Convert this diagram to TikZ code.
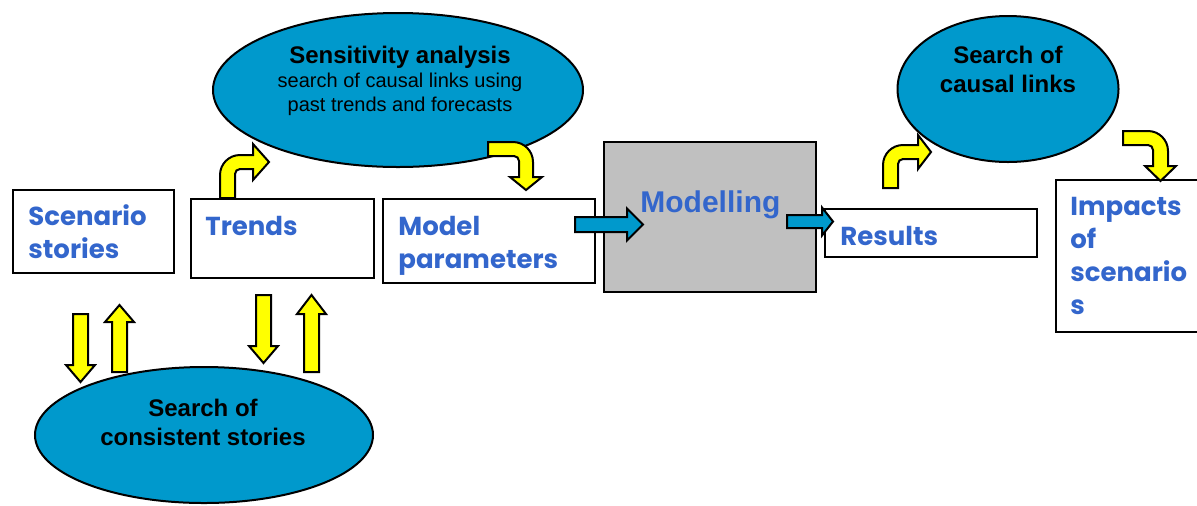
\documentclass[tikz,border=0pt]{standalone}
\usepackage{fontspec}
\setmainfont{Liberation Sans}
\newfontfamily\gothic{Poppins}
\usetikzlibrary{shapes.geometric}
\definecolor{ovalblue}{HTML}{0099CC}
\definecolor{textblue}{HTML}{3366CC}
\definecolor{modelgray}{HTML}{C0C0C0}
\definecolor{arrowyellow}{HTML}{FFFF00}

% straight block arrow: style, start, angle, length, half shaft, half head, head length
\newcommand{\blockarrow}[7]{%
  \draw[#1,shift={#2},rotate=#3] (0,-#5) -- ({#4-#7},-#5) -- ({#4-#7},-#6) -- (#4,0)
    -- ({#4-#7},#6) -- ({#4-#7},#5) -- (0,#5) -- cycle;}

\begin{document}
\begin{tikzpicture}[x=0.5pt,y=-0.5pt,
    box/.style={draw,line width=1pt,rectangle,inner sep=0pt},
    oval/.style={draw,line width=1pt,ellipse,fill=ovalblue,inner sep=0pt},
    boxtext/.style={text=textblue,font=\gothic\bfseries\fontsize{13}{16.5}\selectfont,align=left,anchor=base west,inner sep=0pt},
    ovaltext/.style={font=\bfseries\fontsize{12}{14.5}\selectfont,align=center,anchor=base,inner sep=0pt},
    yarrow/.style={draw,line width=1pt,fill=arrowyellow,line join=miter},
    barrow/.style={draw,line width=1pt,fill=ovalblue,line join=miter}]
    \useasboundingbox (0,0) rectangle (1197,505);

    % ovals
    \node[oval,minimum width=185pt,minimum height=77pt] (sens) at (398,90) {};
    \node[oval,minimum width=110.5pt,minimum height=73pt] (causal) at (1008,89) {};
    \node[oval,minimum width=169pt,minimum height=68pt] (consist) at (204,435) {};

    % (base anchor sits on the last line)
    \node[ovaltext] (senstitle) at (400,63) {Sensitivity analysis};
    \node[font=\fontsize{10}{12}\selectfont,align=center,anchor=base,inner sep=0pt] (senssub) at (400,111)
        {search of causal links using\\past trends and forecasts};
    \node[ovaltext] (causaltext) at (1008,92) {Search of\\causal links};
    \node[ovaltext] (consisttext) at (203,445) {Search of\\consistent stories};

    % boxes
    \node[box,minimum width=80.5pt,minimum height=41.5pt] (scen) at (93.5,231.5) {};
    \node[box,minimum width=91.5pt,minimum height=39.5pt] (trends) at (282.5,238.5) {};
    \node[box,minimum width=106pt,minimum height=42pt] (params) at (489,241) {};
    \node[box,fill=modelgray,minimum width=106pt,minimum height=75pt] (model) at (710,217) {};
    \node[box,minimum width=106pt,minimum height=24pt] (results) at (931,233) {};
    \node[box,minimum width=77pt,minimum height=76pt] (impacts) at (1133,256) {};

    \node[boxtext] (scentext) at (28,258) {Scenario\\stories};
    \node[boxtext] (trendstext) at (205,235) {Trends};
    \node[boxtext] (paramstext) at (398,268) {Model\\parameters};
    \node[anchor=base west,inner sep=0pt,text=textblue,font=\bfseries\fontsize{15}{18}\selectfont] (modeltext) at (640,212) {Modelling};
    \node[boxtext] (resultstext) at (840,245) {Results};
    \node[boxtext] (impactstext) at (1070,314) {Impacts\\of\\scenario\\s};

    % straight arrows
    \blockarrow{yarrow}{(80.5,314)}{-90}{68}{7.5}{14.5}{17}
    \blockarrow{yarrow}{(119.5,372)}{90}{67}{7.5}{14.5}{17}
    \blockarrow{yarrow}{(263.5,295)}{-90}{68}{7.5}{14.5}{17}
    \blockarrow{yarrow}{(311.5,372)}{90}{77}{7.5}{14.5}{19}
    \blockarrow{barrow}{(575,224.5)}{0}{68}{7.5}{16}{16}
    \blockarrow{barrow}{(787,221.5)}{0}{46}{6.5}{14}{11}

    % bent arrows
    \draw[yarrow] (220,198) [rounded corners=10pt] -- (220,155) [sharp corners] -- (253,155) -- (253,144)
        -- (269,162) -- (253,180) -- (253,169) [rounded corners=2.5pt] -- (235,169) [sharp corners] -- (235,198) -- cycle;
    \draw[yarrow] (488,142) [rounded corners=10pt] -- (533,142) [sharp corners] -- (533,177) -- (542,177)
        -- (526,190) -- (510,177) -- (519,177) [rounded corners=2.5pt] -- (519,156) [sharp corners] -- (488,156) -- cycle;
    \draw[yarrow] (883,188) [rounded corners=10pt] -- (883,145) [sharp corners] -- (918,145) -- (918,135)
        -- (931,152) -- (918,169) -- (918,159) [rounded corners=2.5pt] -- (898,159) [sharp corners] -- (898,188) -- cycle;
    \draw[yarrow] (1123,131) [rounded corners=10pt] -- (1168,131) [sharp corners] -- (1168,166) -- (1176,166)
        -- (1160.5,181) -- (1145,166) -- (1153,166) [rounded corners=2.5pt] -- (1153,145) [sharp corners] -- (1123,145) -- cycle;
\end{tikzpicture}
\end{document}
